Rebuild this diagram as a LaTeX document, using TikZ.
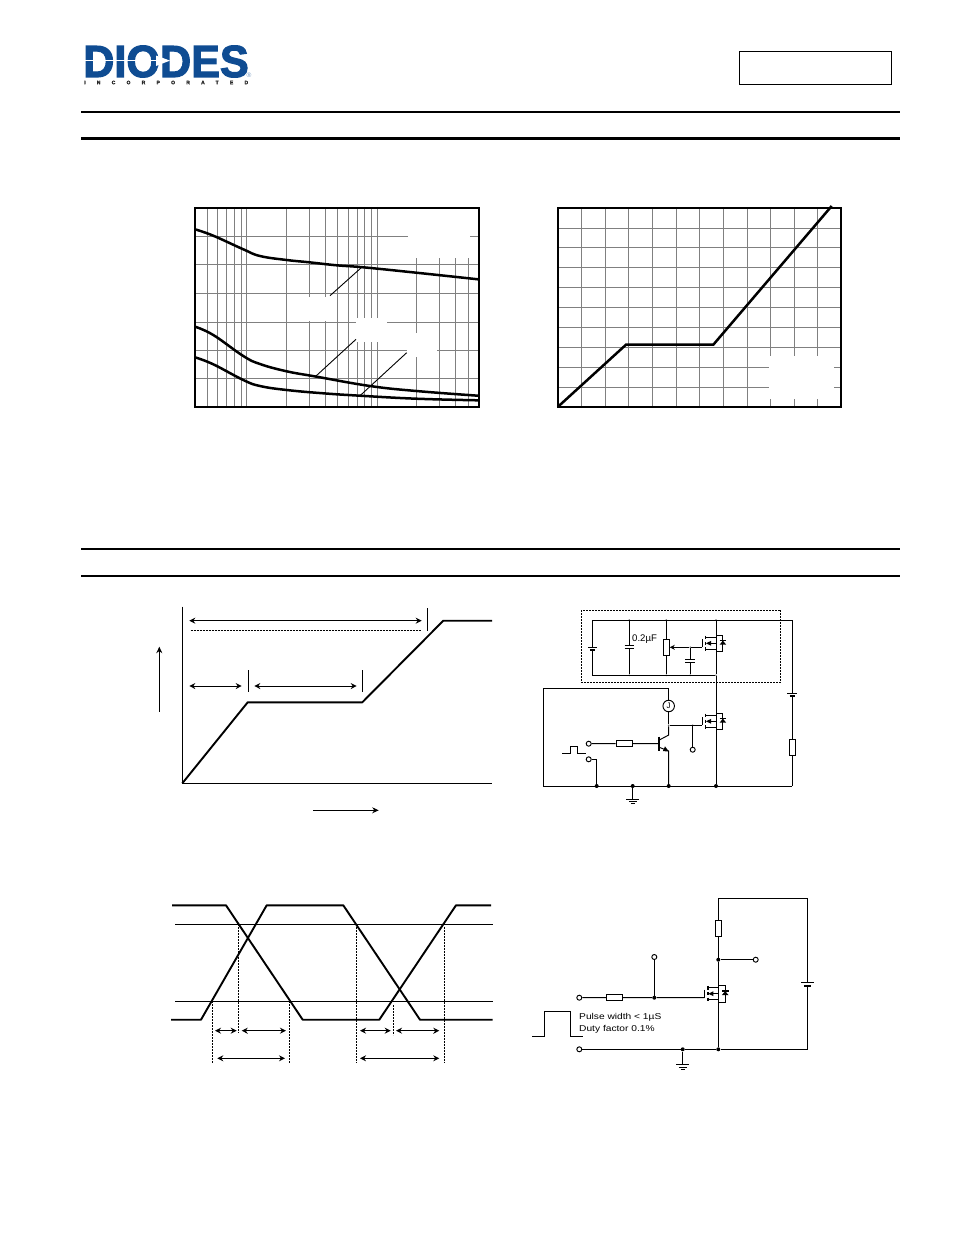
\documentclass[tikz,border=0pt]{standalone}
\usepackage{fontspec}
\usepackage{xcolor}
\setmainfont{Liberation Sans}
\newfontfamily\widefont[FakeStretch=1.2]{Liberation Sans}
\newfontfamily\logofont[FakeBold=2.5]{Liberation Sans Bold}
\usetikzlibrary{arrows.meta}
\definecolor{logoblue}{HTML}{0F4C92}
\definecolor{gridgray}{HTML}{808080}
\tikzset{
  wire/.style={line width=0.95pt},
  dblarrow/.style={line width=0.95pt,{Stealth[length=6pt,width=6pt]}-{Stealth[length=6pt,width=6pt]}},
  onearrow/.style={line width=0.95pt,-{Stealth[length=6.5pt,width=6pt]}},
  trace/.style={line width=1.9pt,line join=round},
  curve/.style={line width=2.5pt,line cap=butt},
  chartframe/.style={line width=2pt},
  gridline/.style={line width=1pt,gridgray},
  leader/.style={line width=0.9pt},
  dots/.style={line width=0.9pt,dash pattern=on 2pt off 1pt},
  mask/.style={fill=white,draw=none},
  resh/.style={draw,line width=0.95pt,fill=white,minimum width=16.5pt,minimum height=6.4pt,inner sep=0pt},
  resv/.style={draw,line width=0.95pt,fill=white,minimum width=6pt,minimum height=16pt,inner sep=0pt},
  term/.style={circle,draw,line width=0.95pt,fill=white,minimum size=5pt,inner sep=0pt},
  jct/.style={circle,fill=black,minimum size=4pt,inner sep=0pt},
  tiny jct/.style={circle,fill=black!60,minimum size=1.8pt,inner sep=0pt},
  pics/mosfet/.style={code={
    \coordinate (-g) at (-14,0);
    \coordinate (-d) at (0,-12.3);
    \coordinate (-s) at (0,4.4);
    \draw[wire] (-14,-8) -- (-14,0);
    \draw[line width=1.6pt] (-10.6,-11.8) -- (-10.6,-8.2) (-10.6,-5.6) -- (-10.6,-2.4) (-10.6,0) -- (-10.6,3.4);
    \draw[wire] (-10.6,-10) -- (0,-10) (-10.6,1.7) -- (0,1.7) (0,-12.3) -- (0,4.4);
    \draw[wire] (0,-4) -- (-5,-4);
    \fill (-10,-4) -- (-5,-6.4) -- (-5,-1.6) -- cycle;
    \draw[wire] (0,-12.3) -- (6.9,-12.3) -- (6.9,4.4) -- (0,4.4);
    \fill (6.9,-6.6) -- (10.2,-2.6) -- (3.6,-2.6) -- cycle;
    \draw[line width=1.3pt] (3.6,-6.6) -- (10.2,-6.6);
  }},
  pics/cellbat/.style 2 args={code={
    \coordinate (-p) at (0,0);
    \coordinate (-n) at (0,#2);
    \draw[wire] (-#1,0) -- (#1,0);
    \draw[line width=2pt] (-#1*0.55,#2) -- (#1*0.55,#2);
  }},
  pics/capacitor/.style 2 args={code={
    \coordinate (-a) at (0,0);
    \coordinate (-b) at (0,#2);
    \draw[wire] (-#1,0) -- (#1,0) (-#1,#2) -- (#1,#2);
  }},
  pics/gnd/.style={code={
    \coordinate (-t) at (0,0);
    \draw[wire] (-6.6,0) -- (6.6,0) (-3.8,2.4) -- (3.8,2.4) (-1.8,4.8) -- (1.8,4.8);
  }},
}
\begin{document}
\begin{tikzpicture}[x=1pt,y=-1pt]
\useasboundingbox (0,0) rectangle (954,1235);

% header
\node[anchor=west,inner sep=0pt,text=logoblue,xscale=0.96,font=\fontsize{45}{45}\logofont] (logotext) at (83,61.5) {DIODES};
\fill[white] (84,59.8) rectangle (160,61.4);
\fill[white] (156,55.5) -- (170,60.6) -- (156,66) -- cycle;
\node[anchor=west,inner sep=0pt,text=logoblue!60,font=\fontsize{6.5}{6.5}\selectfont] (logomark) at (246.5,75.5) {®};
\node[anchor=west,inner sep=0pt,font=\fontsize{5}{5}\logofont\addfontfeature{LetterSpace=225},text=black!85] (logosub) at (84,82.5) {INCORPORATED};
\node[draw,line width=1pt,minimum width=152pt,minimum height=33pt,inner sep=0pt,anchor=north west] (partbox) at (739,51) {};
\draw[line width=2pt] (81,111.5) -- (900,111.5);
\draw[line width=3pt] (81,138.5) -- (900,138.5);
\draw[line width=2pt] (81,548.5) -- (900,548.5);
\draw[line width=2pt] (81,576) -- (900,576);

% left chart
\foreach \gx in {207.7,217.7,226,234.3,241.3,246.3,286.7,309.3,325.7,337.7,348.7,357.3,364.7,371.3,377.3,416.3,439.3,455.7,468.7}
  \draw[gridline] (\gx,208) -- (\gx,407);
\foreach \gy in {236.3,264.3,293.3,322,350.3,378.3}
  \draw[gridline] (195,\gy) -- (478,\gy);
\fill[mask] (408,209) rectangle (470,258);
\fill[mask] (288,296.5) rectangle (336.7,320.5);
\fill[mask] (356,317.7) rectangle (386.7,341.7);
\fill[mask] (406.7,332.7) rectangle (436.7,356.7);
\draw[curve] plot[smooth,tension=0.7] coordinates {(195,229.3) (213.3,235.7) (243.3,249.3) (260,256) (286.7,260) (309.3,262.3) (336.7,265.3) (363.3,267.3) (416.3,272.7) (478,279.3)};
\draw[curve] plot[smooth,tension=0.7] coordinates {(195,326.7) (213.3,335) (243.3,356) (260,364) (286.7,371.3) (316.7,376.7) (370,386) (416.3,391) (478,395.7)};
\draw[curve] plot[smooth,tension=0.7] coordinates {(195,357.3) (213.3,364.3) (243.3,380) (260,386) (286.7,390) (323.3,393.3) (360,395.7) (416.3,398.7) (478,400.3)};
\draw[leader] (330,295.7) -- (361.7,267.3);
\draw[leader] (316,376) -- (356,339.3);
\draw[leader] (360,395.7) -- (406.7,352.7);
\draw[chartframe] (195,208) rectangle (478.5,407);

% right chart
\foreach \gx in {581.3,605.3,628.3,652.3,676.3,699.3,723.3,747.3,770.3,794.3,817.3}
  \draw[gridline] (\gx,208) -- (\gx,407);
\foreach \gy in {228.3,247.3,267.3,287.3,307.3,327.3,347.3,367.3,387.3}
  \draw[gridline] (558,\gy) -- (841,\gy);
\fill[mask] (769.3,355.7) rectangle (834,399);
\draw[curve] (557.7,407) -- (626,344.7) -- (713.3,344.7) -- (831.7,206);
\draw[chartframe] (558,208) rectangle (841,407);

% charge waveform
\draw[wire] (182.3,606.7) -- (182.3,783.3) -- (492,783.3);
\draw[trace] (182.3,783.3) -- (247.7,702.3) -- (362.3,702.3) -- (443.3,620.7) -- (492,620.7);
\draw[dblarrow] (189.3,620.7) -- (421.7,620.7);
\draw[dots] (190.7,630.3) -- (420.7,630.3);
\draw[wire] (427.3,608.3) -- (427.3,630.7);
\draw[dblarrow] (189.3,686) -- (241.7,686);
\draw[wire] (248.3,670) -- (248.3,691.7);
\draw[dblarrow] (254.3,686) -- (356.7,686);
\draw[wire] (362.3,670) -- (362.3,691.7);
\draw[onearrow] (159.3,711.7) -- (159.3,646.7);
\draw[onearrow] (313.3,810.3) -- (378.7,810.3);

% gate charge circuit
\draw[dots] (581.3,610) rectangle (780.7,682.3);
\coordinate (ctl) at (592.3,620);
\coordinate (ctr) at (792.3,620);
\coordinate (cbl) at (592.3,675.3);
\coordinate (bl) at (543.3,786);
\coordinate (br) at (792.3,786);
\node[tiny jct] (topc) at (629.3,620) {};
\node[tiny jct] (topr) at (666.3,620) {};
\node[tiny jct] (topd) at (716,620) {};
\node[tiny jct] (botc) at (629.3,675.3) {};
\node[tiny jct] (botr) at (666.3,675.3) {};
\node[tiny jct] (botg) at (690.3,675.3) {};
\node[tiny jct] (botd) at (716,675.3) {};
\node[tiny jct] (gatej) at (690.3,647.3) {};
\draw[wire] (ctl) -- (ctr);
\draw[wire] (cbl) -- (botd);
\pic (bat1) at (592.3,647.3) {cellbat={4.2}{2.8}};
\draw[wire] (ctl) -- (bat1-p) (bat1-n) -- (cbl);
\pic (cap1) at (629.3,645) {capacitor={4.7}{3.7}};
\draw[wire] (topc) -- (cap1-a) (cap1-b) -- (botc);
\node[anchor=west,inner sep=0pt,font=\fontsize{9.6}{9.6}\selectfont] (caplabel) at (632,639.5) {0.2µF};
\node[resv] (rgs) at (666.3,647.3) {};
\draw[wire] (topr) -- (rgs) -- (botr);
\draw[line width=0.95pt,-{Stealth[length=5pt,width=5pt]}] (gatej) -- (rgs);
\pic (cap2) at (690.3,659.3) {capacitor={5}{3.4}};
\draw[wire] (gatej) -- (cap2-a) (cap2-b) -- (botg);
\pic (dut) at (716,647.3) {mosfet};
\draw[wire] (gatej) -- (dut-g);
\draw[wire] (topd) -- (dut-d) (dut-s) -- (botd);
\pic (low) at (716,725.3) {mosfet};
\draw[wire] (botd) -- (low-d);
\node[jct] (bgnd) at (632.7,786) {};
\node[jct] (bin) at (596.7,786) {};
\node[jct] (bemit) at (668.7,786) {};
\node[jct] (bdrv) at (716,786) {};
\draw[wire] (low-s) -- (bdrv);
\draw[wire] (668.7,688.3) -| (bl) -- (br);
\node[circle,draw,line width=0.95pt,fill=white,minimum size=11.5pt,inner sep=0pt,font=\fontsize{8}{8}\selectfont] (meter) at (668.7,706) {J};
\draw[wire] (668.7,688.3) -- (meter);
\node[tiny jct] (collj) at (668.7,725.3) {};
\node[tiny jct] (gatel) at (692.7,725.3) {};
\draw[wire] (meter) -- (collj) -- (low-g);
\node[term] (vgs) at (692.7,749.7) {};
\draw[wire] (gatel) -- (vgs);
\node[term] (pin1) at (588.7,743.7) {};
\node[term] (pin2) at (588.7,759.3) {};
\node[resh] (rbase) at (624.3,743.5) {};
\coordinate (qb) at (659.3,743.7);
\draw[line width=1.8pt] (659.3,736.7) -- (659.3,750.7);
\draw[wire] (pin1) -- (rbase) -- (qb);
\draw[wire] (collj) -- (668.7,735) -- (659.3,740);
\draw[wire] (659.3,747.3) -- (668.7,751) -- (bemit);
\fill (668.7,751.3) -- (662.8,751.2) -- (665,746.4) -- cycle;
\draw[wire] (pin2) -| (bin);
\draw[wire] (562.3,753.7) -- (570.7,753.7) -- (570.7,746.7) -- (577.3,746.7) -- (577.3,753.7) -- (585.7,753.7);
\pic (gnd1) at (632.7,799) {gnd};
\draw[wire] (bgnd) -- (gnd1-t);
\pic (bat2) at (792.3,693.3) {cellbat={5}{2.6}};
\draw[wire] (ctr) -- (bat2-p);
\node[resv] (rload) at (792.3,747.5) {};
\draw[wire] (bat2-n) -- (rload) -- (br);

% switching waveform
\draw[trace] (172,905.3) -- (226,905.3) -- (302.7,1019.7) -- (379.3,1019.7) -- (456,905.3) -- (491,905.3);
\draw[trace] (171,1019.7) -- (201,1019.7) -- (266.7,905.3) -- (343.3,905.3) -- (420,1019.7) -- (492.7,1019.7);
\draw[wire] (175,924.3) -- (492.7,924.3);
\draw[wire] (175,1001.3) -- (492.7,1001.3);
\draw[dots] (212.3,1001.3) -- (212.3,1063.3);
\draw[dots] (238.3,924.3) -- (238.3,1033.3);
\draw[dots] (289.3,1001.3) -- (289.3,1063.3);
\draw[dots] (356.3,924.3) -- (356.3,1063.3);
\draw[dots] (393.3,1005) -- (393.3,1035);
\draw[dots] (444.3,926.7) -- (444.3,1063.3);
\draw[dblarrow] (215,1030.7) -- (236.7,1030.7);
\draw[dblarrow] (241.7,1030.7) -- (286,1030.7);
\draw[dblarrow] (360,1030.7) -- (390.7,1030.7);
\draw[dblarrow] (396,1030.7) -- (439.3,1030.7);
\draw[dblarrow] (217.3,1058.3) -- (285,1058.3);
\draw[dblarrow] (360,1058.3) -- (439.3,1058.3);

% switching circuit
\coordinate (swtl) at (718.3,898.3);
\coordinate (swtr) at (807.7,898.3);
\coordinate (swbr) at (807.7,1049.3);
\node[term] (gin) at (579.3,997.7) {};
\node[term] (gout) at (654.3,957) {};
\node[term] (srcin) at (579.3,1049.3) {};
\node[term] (vout) at (755.7,959.7) {};
\node[jct] (gj) at (654.3,997.7) {};
\node[jct] (dj) at (718.3,959.7) {};
\node[jct] (gndj) at (682.7,1049.3) {};
\node[jct] (sj) at (718.3,1049.3) {};
\node[resh] (rgen) at (614.5,997.5) {};
\node[resv] (rd) at (718.3,928.3) {};
\pic (swq) at (718.3,997.7) {mosfet};
\pic (bat3) at (807.7,982.7) {cellbat={6.7}{3.6}};
\pic (gnd2) at (682.7,1064.7) {gnd};
\draw[wire] (gin) -- (rgen) -- (gj) -- (swq-g);
\draw[wire] (gj) -- (gout);
\draw[wire] (bat3-p) -- (swtr) -- (swtl) -- (rd) -- (dj) -- (swq-d);
\draw[wire] (dj) -- (vout);
\draw[wire] (swq-s) -- (sj);
\draw[wire] (srcin) -- (gndj) -- (sj) -- (swbr) -- (bat3-n);
\draw[wire] (gndj) -- (gnd2-t);
\draw[wire] (532.3,1036) -- (544.7,1036) -- (544.7,1011.3) -- (570.3,1011.3) -- (570.3,1036) -- (582.7,1036);
\node[anchor=west,inner sep=0pt,font=\fontsize{8.5}{8.5}\widefont] (pulsew) at (579,1017.5) {Pulse width < 1µS};
\node[anchor=west,inner sep=0pt,font=\fontsize{8.5}{8.5}\widefont] (dutyf) at (579,1029.5) {Duty factor 0.1\%};
\end{tikzpicture}
\end{document}
